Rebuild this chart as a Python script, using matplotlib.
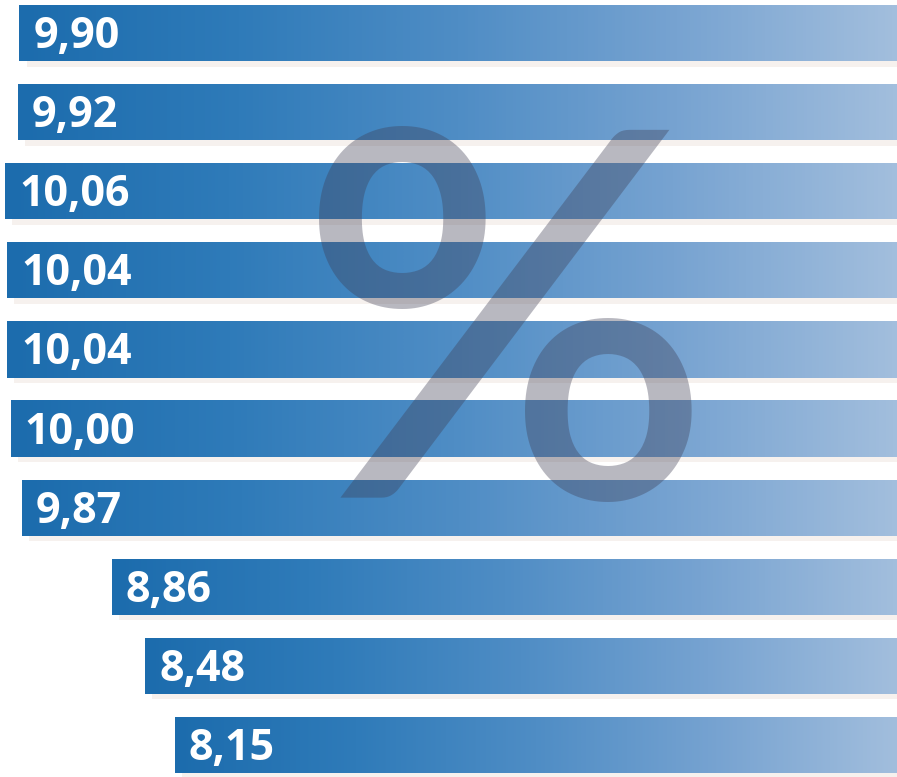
import matplotlib
matplotlib.use("Agg")
import matplotlib.pyplot as plt
import numpy as np
from matplotlib.colors import LinearSegmentedColormap

values = [9.90, 9.92, 10.06, 10.04, 10.04, 10.00, 9.87, 8.86, 8.48, 8.15]
labels = ["9,90", "9,92", "10,06", "10,04", "10,04", "10,00", "9,87", "8,86", "8,48", "8,15"]

W, H = 897, 777
fig = plt.figure(figsize=(W / 100, H / 100), dpi=100)
fig.patch.set_facecolor("white")
ax = fig.add_axes([0, 0, 1, 1])
ax.set_axis_off()

grad = LinearSegmentedColormap.from_list(
    "bar", ["#1c6cad", "#2f7bb9", "#4f8dc5", "#77a3d1", "#a2bedd"])
g = np.linspace(0, 1, 256).reshape(1, -1)

pos = np.arange(len(values))
h = 0.71

# faint shadow under the bars
ax.barh(pos + 0.07, [v - 0.08 for v in values], height=h, color="#f6f1ee",
        edgecolor="none", zorder=1)
bars = ax.barh(pos, values, height=h, color="none", edgecolor="none", zorder=2)

for b, v, lab, y in zip(bars, values, labels, pos):
    im = ax.imshow(g, cmap=grad, aspect="auto", zorder=2,
                   extent=[v, 0, y + h / 2, y - h / 2], interpolation="bicubic")
    im.set_clip_path(b)
    ax.annotate(lab, xy=(v, y), xytext=(10, -2.5), textcoords="offset points",
                ha="left", va="center", color="white", fontsize=31,
                fontweight="bold", family="Open Sans", zorder=4)

# bars grow from the right edge to the left
ax.set_xlim(10.12, 0)
ax.set_ylim(9.405, -0.417)

# big translucent percent sign
fig.text(505 / W, 1 - 498 / H, "%", ha="center", va="baseline",
         fontsize=368, family="Lato", fontweight="semibold",
         color="#3c3c52", alpha=0.36, zorder=5)

fig.savefig("out.png", dpi=100, facecolor="white")
